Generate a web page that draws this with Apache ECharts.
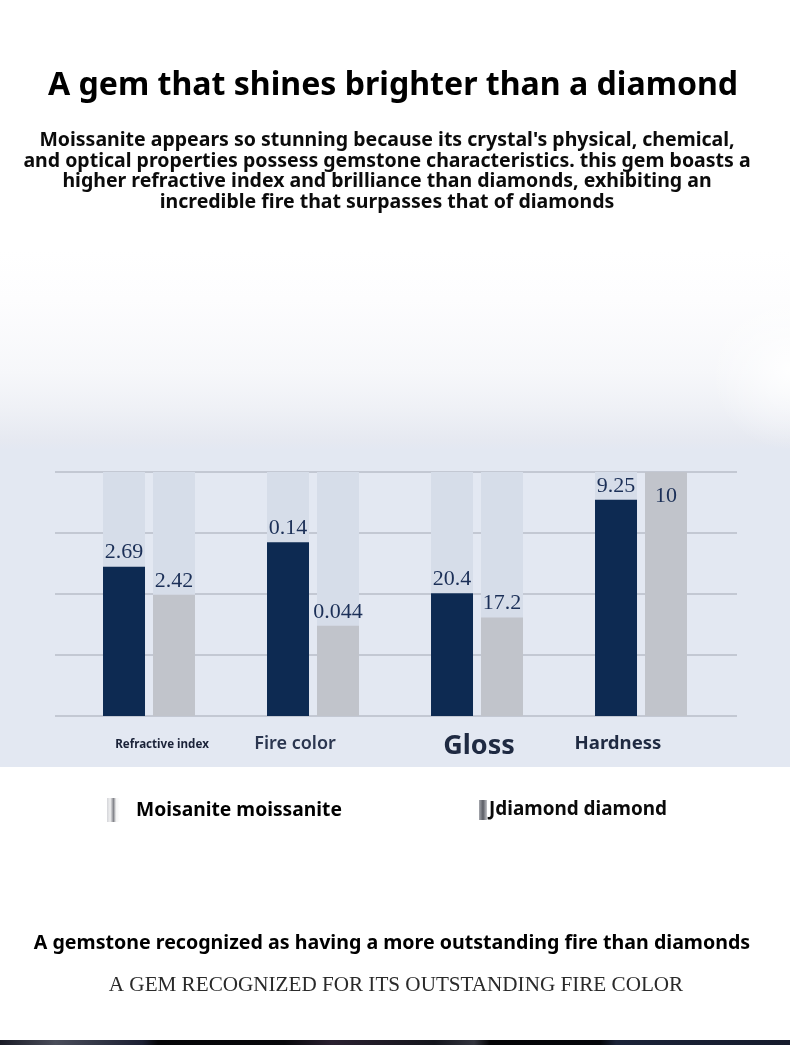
<!DOCTYPE html>
<html>
<head>
<meta charset="utf-8">
<style>html,body{margin:0;padding:0;background:#fff}#chart{width:790px;height:1045px}</style>
<script src="https://cdn.jsdelivr.net/npm/echarts@6/dist/echarts.min.js"></script>
</head>
<body>
<div id="chart"></div>
<script>
// Property names and the values measured for each stone
const properties = ['Refractive index', 'Fire color', 'Gloss', 'Hardness'];
const moissanite = [2.69, 0.14, 20.4, 9.25];
const diamond = [2.42, 0.044, 17.2, 10];
// Every property has its own units, so each bar keeps its own scale ceiling
const moissaniteCeiling = [4.395, 0.1966, 40.56, 10.44];
const diamondCeiling = [4.87, 0.119, 42.57, 10];

const sans = '"Noto Sans", sans-serif';
const serif = '"Liberation Serif", serif';
const navy = '#0d2a52';
const silver = '#c1c4cb';
const track = '#d6dde9';
const panel = '#e3e8f2';

const plotTop = 472, plotHeight = 244, firstBand = 67, bandWidth = 164;

// Per-property axis label look; shift nudges each caption along the band, drop moves it down
const captionStyle = [
  { fontSize: 11.6, fontWeight: 700, color: '#1a2238', shift: 13, drop: 1 },
  { fontSize: 18, fontWeight: 600, color: '#2b3650', shift: -18, drop: 0 },
  { fontSize: 27, fontWeight: 700, color: '#1f2a42', shift: 2, drop: 2 },
  { fontSize: 18.6, fontWeight: 700, color: '#1f2a42', shift: -23, drop: 0 }
];

const grids = [{ left: 55, width: 682, top: plotTop, height: plotHeight }];
const xAxes = [{ gridIndex: 0, type: 'value', min: 0, max: 1, show: false }];
const yAxes = [{
  gridIndex: 0, type: 'value', min: 0, max: 4, interval: 1,
  axisLine: { show: false }, axisTick: { show: false }, axisLabel: { show: false },
  splitLine: { show: true, lineStyle: { color: '#b9bec9', width: 1.5 } }
}];
const series = [];

function barSeries(name, value, color, gridPos, yIndex) {
  const full = value >= diamondCeiling[gridPos] && name === 'Diamond';
  return {
    name, type: 'bar', xAxisIndex: gridPos + 1, yAxisIndex: yIndex,
    data: [value], barWidth: 42, barGap: '19%',
    showBackground: true, backgroundStyle: { color: track },
    itemStyle: { color },
    label: {
      show: true, position: full ? 'insideTop' : 'top', distance: full ? 13 : 3,
      fontFamily: serif, fontSize: 22, color: '#1b2f57'
    },
    z: 3
  };
}

properties.forEach((prop, i) => {
  const st = captionStyle[i];
  const gridPos = i + 1;
  grids.push({ left: firstBand + bandWidth * i, width: bandWidth, top: plotTop, height: plotHeight });
  xAxes.push({
    gridIndex: gridPos, type: 'category', data: [prop],
    axisLine: { show: false }, axisTick: { show: false },
    axisLabel: {
      interval: 0, margin: 28 + st.drop, verticalAlign: 'middle', fontFamily: sans,
      fontSize: st.fontSize, fontWeight: st.fontWeight, color: st.color,
      padding: [0, st.shift < 0 ? -st.shift * 2 : 0, 0, st.shift > 0 ? st.shift * 2 : 0]
    }
  });
  const moissaniteAxis = yAxes.length;
  [moissaniteCeiling[i], diamondCeiling[i]].forEach((max, k) => {
    yAxes.push({ gridIndex: gridPos, type: 'value', min: 0, max, show: false, position: k ? 'right' : 'left' });
  });
  series.push(barSeries('Moissanite', moissanite[i], navy, i, moissaniteAxis));
  series.push(barSeries('Diamond', diamond[i], silver, i, moissaniteAxis + 1));
});

function text(str, x, y, font, fill) {
  return {
    type: 'text', x, y, z: 20,
    style: { text: str, font, fill, align: 'center', verticalAlign: 'middle' }
  };
}

const backdrop = [
  { type: 'rect', z: -20, shape: { x: 0, y: 250, width: 790, height: 200 },
    style: { fill: { type: 'linear', x: 0, y: 0, x2: 0, y2: 1, colorStops: [
      { offset: 0, color: '#ffffff' }, { offset: 0.25, color: '#fdfdfe' },
      { offset: 0.615, color: '#f6f7fa' }, { offset: 0.785, color: '#eff1f6' },
      { offset: 0.95, color: '#e6e9f1' }, { offset: 1, color: panel }
    ] } } },
  // The haze lifts towards the right edge of the page
  { type: 'rect', z: -19, shape: { x: 600, y: 250, width: 190, height: 200 },
    style: { fill: { type: 'radial', x: 1, y: 0.6, r: 0.42, colorStops: [
      { offset: 0, color: 'rgba(255,255,255,0.9)' }, { offset: 0.5, color: 'rgba(255,255,255,0.4)' },
      { offset: 1, color: 'rgba(255,255,255,0)' }
    ] } } },
  { type: 'rect', z: -20, shape: { x: 0, y: 450, width: 790, height: 317 }, style: { fill: panel } },
  // Dark photograph edge running along the foot of the page
  { type: 'rect', z: -20, shape: { x: 0, y: 1040, width: 790, height: 5 },
    style: { fill: { type: 'linear', x: 0, y: 0, x2: 1, y2: 0, colorStops: [
      { offset: 0, color: '#1a1b26' }, { offset: 0.07, color: '#4a4d5a' }, { offset: 0.18, color: '#1c2033' },
      { offset: 0.2, color: '#050507' }, { offset: 0.36, color: '#08080b' }, { offset: 0.42, color: '#2a2030' },
      { offset: 0.55, color: '#14151c' }, { offset: 0.6, color: '#33343e' }, { offset: 0.62, color: '#040406' },
      { offset: 0.76, color: '#05060a' }, { offset: 0.78, color: '#1b2338' }, { offset: 1, color: '#161b2c' }
    ] } } }
];

// Tiny gem thumbnails beside the two stone names
const gemIcons = [
  { type: 'rect', z: 20, shape: { x: 107, y: 798, width: 13, height: 24 },
    style: { fill: { type: 'linear', x: 0, y: 0, x2: 1, y2: 0, colorStops: [
      { offset: 0, color: '#d4d5d9' }, { offset: 0.25, color: '#f0f0f1' }, { offset: 0.5, color: '#85868c' },
      { offset: 0.7, color: '#f4f4f4' }, { offset: 1, color: '#ffffff' }
    ] } } },
  { type: 'rect', z: 20, shape: { x: 479, y: 800, width: 8, height: 20 },
    style: { fill: { type: 'linear', x: 0, y: 0, x2: 1, y2: 0, colorStops: [
      { offset: 0, color: '#a5a7ad' }, { offset: 0.5, color: '#5a5c64' }, { offset: 1, color: '#c2c3c8' }
    ] } } }
];

const labels = [
  text('A gem that shines brighter than a diamond', 393, 86, `700 32.1px ${sans}`, '#000'),
  text("Moissanite appears so stunning because its crystal's physical, chemical,", 387, 140, `700 19.5px ${sans}`, '#0b0b0b'),
  text('and optical properties possess gemstone characteristics. this gem boasts a', 387, 161, `700 19.5px ${sans}`, '#0b0b0b'),
  text('higher refractive index and brilliance than diamonds, exhibiting an', 387, 181, `700 19.5px ${sans}`, '#0b0b0b'),
  text('incredible fire that surpasses that of diamonds', 387, 202, `700 19.5px ${sans}`, '#0b0b0b'),
  text('Moisanite moissanite', 239, 811, `700 19.25px ${sans}`, '#000'),
  text('Jdiamond diamond', 578, 810, `700 18.9px ${sans}`, '#0a0a0a'),
  text('A gemstone recognized as having a more outstanding fire than diamonds', 392, 943, `700 19.6px ${sans}`, '#000'),
  text('A GEM RECOGNIZED FOR ITS OUTSTANDING FIRE COLOR', 396, 985, `400 21.15px ${serif}`, '#2a2a2a')
];

const chart = echarts.init(document.getElementById('chart'), null, { renderer: 'canvas' });
chart.setOption({
  animation: false,
  backgroundColor: '#ffffff',
  tooltip: { show: false },
  grid: grids,
  xAxis: xAxes,
  yAxis: yAxes,
  series,
  graphic: { elements: backdrop.concat(gemIcons, labels) }
});
</script>
</body>
</html>
